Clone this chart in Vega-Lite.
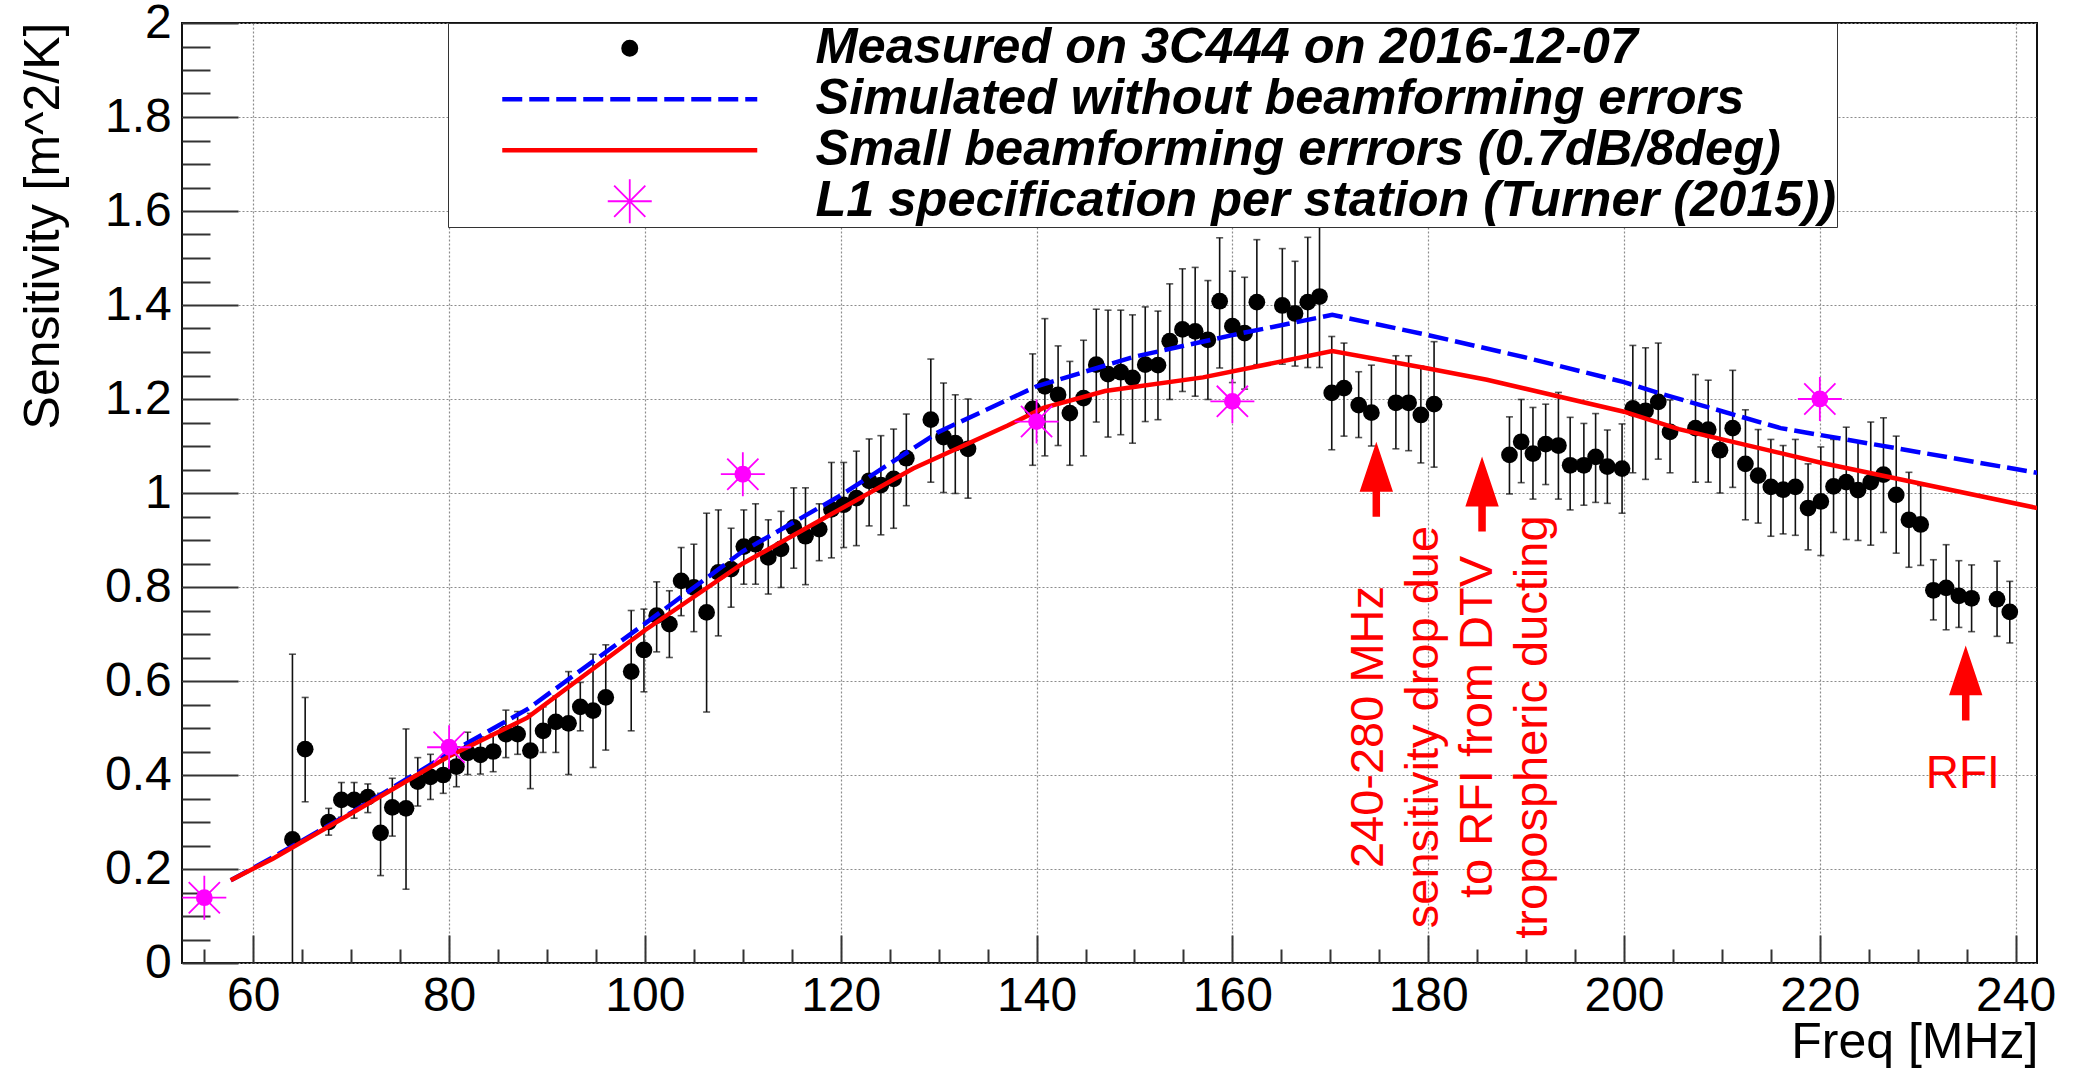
{
  "$schema": "https://vega.github.io/schema/vega-lite/v6.json",
  "width": 1855,
  "height": 940,
  "autosize": {"type": "none"},
  "padding": {"left": 182, "top": 23, "right": 37, "bottom": 107},
  "background": "#ffffff",
  "config": {
    "font": "Liberation Sans",
    "view": {"stroke": "#111111", "strokeWidth": 2},
    "axis": {
      "labelFont": "Liberation Sans",
      "titleFont": "Liberation Sans",
      "labelColor": "#000000",
      "titleColor": "#000000",
      "titleFontWeight": "normal",
      "domain": false,
      "labelFlush": false,
      "labelOverlap": false,
      "labelBound": false,
      "tickColor": "#333333",
      "tickWidth": 2
    }
  },
  "datasets": {
    "measured": [
      {"f": 64.0, "s": 0.263, "lo": -0.131, "hi": 0.657},
      {"f": 65.3, "s": 0.455, "lo": 0.343, "hi": 0.565},
      {"f": 67.7, "s": 0.300, "lo": 0.272, "hi": 0.329},
      {"f": 69.0, "s": 0.347, "lo": 0.310, "hi": 0.384},
      {"f": 70.3, "s": 0.347, "lo": 0.308, "hi": 0.384},
      {"f": 71.7, "s": 0.353, "lo": 0.320, "hi": 0.381},
      {"f": 73.0, "s": 0.277, "lo": 0.186, "hi": 0.361},
      {"f": 74.2, "s": 0.331, "lo": 0.270, "hi": 0.393},
      {"f": 75.6, "s": 0.329, "lo": 0.157, "hi": 0.498},
      {"f": 76.8, "s": 0.386, "lo": 0.334, "hi": 0.437},
      {"f": 78.1, "s": 0.396, "lo": 0.348, "hi": 0.444},
      {"f": 79.4, "s": 0.400, "lo": 0.361, "hi": 0.439},
      {"f": 80.75, "s": 0.418, "lo": 0.375, "hi": 0.460},
      {"f": 81.9, "s": 0.447, "lo": 0.401, "hi": 0.491},
      {"f": 83.2, "s": 0.443, "lo": 0.402, "hi": 0.481},
      {"f": 84.5, "s": 0.450, "lo": 0.407, "hi": 0.488},
      {"f": 85.8, "s": 0.487, "lo": 0.437, "hi": 0.538},
      {"f": 87.0, "s": 0.487, "lo": 0.444, "hi": 0.535},
      {"f": 88.3, "s": 0.452, "lo": 0.371, "hi": 0.531},
      {"f": 89.6, "s": 0.494, "lo": 0.448, "hi": 0.545},
      {"f": 90.9, "s": 0.513, "lo": 0.448, "hi": 0.568},
      {"f": 92.2, "s": 0.510, "lo": 0.401, "hi": 0.620},
      {"f": 93.4, "s": 0.545, "lo": 0.494, "hi": 0.597},
      {"f": 94.7, "s": 0.537, "lo": 0.416, "hi": 0.657},
      {"f": 96.0, "s": 0.565, "lo": 0.453, "hi": 0.677},
      {"f": 98.6, "s": 0.620, "lo": 0.494, "hi": 0.750},
      {"f": 99.9, "s": 0.666, "lo": 0.577, "hi": 0.753},
      {"f": 101.2, "s": 0.739, "lo": 0.662, "hi": 0.811},
      {"f": 102.5, "s": 0.721, "lo": 0.650, "hi": 0.792},
      {"f": 103.7, "s": 0.813, "lo": 0.739, "hi": 0.884},
      {"f": 105.0, "s": 0.799, "lo": 0.705, "hi": 0.891},
      {"f": 106.3, "s": 0.746, "lo": 0.534, "hi": 0.957},
      {"f": 107.5, "s": 0.831, "lo": 0.696, "hi": 0.964},
      {"f": 108.8, "s": 0.838, "lo": 0.757, "hi": 0.925},
      {"f": 110.1, "s": 0.886, "lo": 0.806, "hi": 0.964},
      {"f": 111.3, "s": 0.891, "lo": 0.806, "hi": 0.977},
      {"f": 112.6, "s": 0.863, "lo": 0.785, "hi": 0.943},
      {"f": 113.9, "s": 0.881, "lo": 0.799, "hi": 0.961},
      {"f": 115.2, "s": 0.927, "lo": 0.840, "hi": 1.011},
      {"f": 116.4, "s": 0.908, "lo": 0.805, "hi": 1.011},
      {"f": 117.8, "s": 0.923, "lo": 0.856, "hi": 0.977},
      {"f": 119.05, "s": 0.965, "lo": 0.862, "hi": 1.065},
      {"f": 120.3, "s": 0.975, "lo": 0.884, "hi": 1.065},
      {"f": 121.6, "s": 0.989, "lo": 0.888, "hi": 1.089},
      {"f": 122.9, "s": 1.026, "lo": 0.930, "hi": 1.115},
      {"f": 124.1, "s": 1.017, "lo": 0.911, "hi": 1.122},
      {"f": 125.4, "s": 1.030, "lo": 0.925, "hi": 1.136},
      {"f": 126.7, "s": 1.074, "lo": 0.973, "hi": 1.168},
      {"f": 129.2, "s": 1.156, "lo": 1.023, "hi": 1.285},
      {"f": 130.5, "s": 1.119, "lo": 1.001, "hi": 1.234},
      {"f": 131.7, "s": 1.106, "lo": 0.999, "hi": 1.209},
      {"f": 133.0, "s": 1.094, "lo": 0.989, "hi": 1.200},
      {"f": 139.6, "s": 1.179, "lo": 1.059, "hi": 1.296},
      {"f": 140.85, "s": 1.227, "lo": 1.079, "hi": 1.371},
      {"f": 142.2, "s": 1.209, "lo": 1.101, "hi": 1.313},
      {"f": 143.4, "s": 1.170, "lo": 1.059, "hi": 1.280},
      {"f": 144.8, "s": 1.202, "lo": 1.079, "hi": 1.325},
      {"f": 146.1, "s": 1.273, "lo": 1.151, "hi": 1.391},
      {"f": 147.3, "s": 1.253, "lo": 1.119, "hi": 1.389},
      {"f": 148.6, "s": 1.257, "lo": 1.124, "hi": 1.389},
      {"f": 149.8, "s": 1.245, "lo": 1.106, "hi": 1.379},
      {"f": 151.1, "s": 1.273, "lo": 1.152, "hi": 1.396},
      {"f": 152.4, "s": 1.272, "lo": 1.156, "hi": 1.387},
      {"f": 153.6, "s": 1.323, "lo": 1.199, "hi": 1.445},
      {"f": 154.9, "s": 1.348, "lo": 1.216, "hi": 1.477},
      {"f": 156.2, "s": 1.344, "lo": 1.206, "hi": 1.480},
      {"f": 157.5, "s": 1.326, "lo": 1.199, "hi": 1.452},
      {"f": 158.7, "s": 1.408, "lo": 1.266, "hi": 1.543},
      {"f": 160.0, "s": 1.355, "lo": 1.235, "hi": 1.472},
      {"f": 161.25, "s": 1.340, "lo": 1.221, "hi": 1.459},
      {"f": 162.5, "s": 1.406, "lo": 1.273, "hi": 1.539},
      {"f": 165.1, "s": 1.399, "lo": 1.274, "hi": 1.520},
      {"f": 166.4, "s": 1.382, "lo": 1.270, "hi": 1.493},
      {"f": 167.7, "s": 1.406, "lo": 1.267, "hi": 1.544},
      {"f": 168.9, "s": 1.418, "lo": 1.267, "hi": 1.567},
      {"f": 170.15, "s": 1.213, "lo": 1.092, "hi": 1.333},
      {"f": 171.4, "s": 1.223, "lo": 1.121, "hi": 1.319},
      {"f": 172.9, "s": 1.187, "lo": 1.118, "hi": 1.258},
      {"f": 174.2, "s": 1.171, "lo": 1.100, "hi": 1.272},
      {"f": 176.7, "s": 1.192, "lo": 1.094, "hi": 1.292},
      {"f": 178.0, "s": 1.192, "lo": 1.090, "hi": 1.292},
      {"f": 179.25, "s": 1.166, "lo": 1.064, "hi": 1.270},
      {"f": 180.6, "s": 1.189, "lo": 1.055, "hi": 1.322},
      {"f": 188.3, "s": 1.081, "lo": 0.998, "hi": 1.162},
      {"f": 189.5, "s": 1.109, "lo": 1.022, "hi": 1.199},
      {"f": 190.7, "s": 1.084, "lo": 0.987, "hi": 1.182},
      {"f": 192.0, "s": 1.104, "lo": 1.018, "hi": 1.189},
      {"f": 193.3, "s": 1.101, "lo": 0.987, "hi": 1.214},
      {"f": 194.5, "s": 1.059, "lo": 0.964, "hi": 1.161},
      {"f": 195.9, "s": 1.059, "lo": 0.974, "hi": 1.148},
      {"f": 197.1, "s": 1.077, "lo": 0.980, "hi": 1.169},
      {"f": 198.3, "s": 1.056, "lo": 0.978, "hi": 1.134},
      {"f": 199.8, "s": 1.052, "lo": 0.957, "hi": 1.147},
      {"f": 200.9, "s": 1.180, "lo": 1.043, "hi": 1.314},
      {"f": 202.2, "s": 1.175, "lo": 1.029, "hi": 1.309},
      {"f": 203.5, "s": 1.194, "lo": 1.072, "hi": 1.319},
      {"f": 204.7, "s": 1.130, "lo": 1.043, "hi": 1.198},
      {"f": 207.3, "s": 1.138, "lo": 1.023, "hi": 1.252},
      {"f": 208.6, "s": 1.135, "lo": 1.023, "hi": 1.240},
      {"f": 209.8, "s": 1.091, "lo": 1.000, "hi": 1.174},
      {"f": 211.1, "s": 1.138, "lo": 1.012, "hi": 1.261},
      {"f": 212.4, "s": 1.062, "lo": 0.943, "hi": 1.177},
      {"f": 213.7, "s": 1.037, "lo": 0.936, "hi": 1.135},
      {"f": 215.0, "s": 1.013, "lo": 0.908, "hi": 1.114},
      {"f": 216.25, "s": 1.007, "lo": 0.913, "hi": 1.101},
      {"f": 217.5, "s": 1.013, "lo": 0.910, "hi": 1.114},
      {"f": 218.8, "s": 0.968, "lo": 0.879, "hi": 1.062},
      {"f": 220.1, "s": 0.982, "lo": 0.867, "hi": 1.098},
      {"f": 221.4, "s": 1.014, "lo": 0.916, "hi": 1.114},
      {"f": 222.7, "s": 1.023, "lo": 0.901, "hi": 1.140},
      {"f": 223.9, "s": 1.006, "lo": 0.899, "hi": 1.109},
      {"f": 225.2, "s": 1.023, "lo": 0.889, "hi": 1.151},
      {"f": 226.5, "s": 1.039, "lo": 0.916, "hi": 1.160},
      {"f": 227.8, "s": 0.996, "lo": 0.872, "hi": 1.121},
      {"f": 229.1, "s": 0.943, "lo": 0.842, "hi": 1.044},
      {"f": 230.3, "s": 0.933, "lo": 0.846, "hi": 1.016},
      {"f": 231.6, "s": 0.793, "lo": 0.730, "hi": 0.858},
      {"f": 232.9, "s": 0.798, "lo": 0.709, "hi": 0.890},
      {"f": 234.2, "s": 0.781, "lo": 0.714, "hi": 0.856},
      {"f": 235.5, "s": 0.776, "lo": 0.705, "hi": 0.847},
      {"f": 238.1, "s": 0.774, "lo": 0.695, "hi": 0.855},
      {"f": 239.4, "s": 0.747, "lo": 0.681, "hi": 0.812}
    ],
    "curves": [
      {"f": 57.7, "s": 0.176, "curve": "Simulated without beamforming errors"},
      {"f": 62, "s": 0.225, "curve": "Simulated without beamforming errors"},
      {"f": 70, "s": 0.320, "curve": "Simulated without beamforming errors"},
      {"f": 80, "s": 0.446, "curve": "Simulated without beamforming errors"},
      {"f": 88, "s": 0.540, "curve": "Simulated without beamforming errors"},
      {"f": 100, "s": 0.722, "curve": "Simulated without beamforming errors"},
      {"f": 110, "s": 0.876, "curve": "Simulated without beamforming errors"},
      {"f": 120, "s": 0.995, "curve": "Simulated without beamforming errors"},
      {"f": 130, "s": 1.130, "curve": "Simulated without beamforming errors"},
      {"f": 140, "s": 1.227, "curve": "Simulated without beamforming errors"},
      {"f": 150, "s": 1.290, "curve": "Simulated without beamforming errors"},
      {"f": 160, "s": 1.336, "curve": "Simulated without beamforming errors"},
      {"f": 170.2, "s": 1.379, "curve": "Simulated without beamforming errors"},
      {"f": 180, "s": 1.336, "curve": "Simulated without beamforming errors"},
      {"f": 190, "s": 1.288, "curve": "Simulated without beamforming errors"},
      {"f": 200, "s": 1.236, "curve": "Simulated without beamforming errors"},
      {"f": 204, "s": 1.210, "curve": "Simulated without beamforming errors"},
      {"f": 216, "s": 1.138, "curve": "Simulated without beamforming errors"},
      {"f": 242.2, "s": 1.043, "curve": "Simulated without beamforming errors"},
      {"f": 57.7, "s": 0.176, "curve": "Small beamforming errrors (0.7dB/8deg)"},
      {"f": 62, "s": 0.222, "curve": "Small beamforming errrors (0.7dB/8deg)"},
      {"f": 70, "s": 0.318, "curve": "Small beamforming errrors (0.7dB/8deg)"},
      {"f": 80, "s": 0.440, "curve": "Small beamforming errrors (0.7dB/8deg)"},
      {"f": 88, "s": 0.522, "curve": "Small beamforming errrors (0.7dB/8deg)"},
      {"f": 100, "s": 0.708, "curve": "Small beamforming errrors (0.7dB/8deg)"},
      {"f": 110, "s": 0.850, "curve": "Small beamforming errrors (0.7dB/8deg)"},
      {"f": 118, "s": 0.943, "curve": "Small beamforming errrors (0.7dB/8deg)"},
      {"f": 127.4, "s": 1.052, "curve": "Small beamforming errrors (0.7dB/8deg)"},
      {"f": 137, "s": 1.143, "curve": "Small beamforming errrors (0.7dB/8deg)"},
      {"f": 140.7, "s": 1.181, "curve": "Small beamforming errrors (0.7dB/8deg)"},
      {"f": 147, "s": 1.217, "curve": "Small beamforming errrors (0.7dB/8deg)"},
      {"f": 157, "s": 1.246, "curve": "Small beamforming errrors (0.7dB/8deg)"},
      {"f": 170.2, "s": 1.302, "curve": "Small beamforming errrors (0.7dB/8deg)"},
      {"f": 180, "s": 1.265, "curve": "Small beamforming errrors (0.7dB/8deg)"},
      {"f": 186, "s": 1.241, "curve": "Small beamforming errrors (0.7dB/8deg)"},
      {"f": 200, "s": 1.173, "curve": "Small beamforming errrors (0.7dB/8deg)"},
      {"f": 205.6, "s": 1.136, "curve": "Small beamforming errrors (0.7dB/8deg)"},
      {"f": 220, "s": 1.065, "curve": "Small beamforming errrors (0.7dB/8deg)"},
      {"f": 242.2, "s": 0.968, "curve": "Small beamforming errrors (0.7dB/8deg)"}
    ],
    "spec": [
      {"f": 55, "s": 0.139, "curve": "L1 specification per station (Turner (2015))"},
      {"f": 80, "s": 0.459, "curve": "L1 specification per station (Turner (2015))"},
      {"f": 110, "s": 1.040, "curve": "L1 specification per station (Turner (2015))"},
      {"f": 140, "s": 1.152, "curve": "L1 specification per station (Turner (2015))"},
      {"f": 160, "s": 1.195, "curve": "L1 specification per station (Turner (2015))"},
      {"f": 220, "s": 1.200, "curve": "L1 specification per station (Turner (2015))"}
    ],
    "arrows": [
      {"f": 174.7, "s": 1.029},
      {"f": 185.5, "s": 0.998},
      {"f": 234.9, "s": 0.596}
    ],
    "dtvNote": [
      {"f": 174.0, "s": 0.502, "text": ["240-280 MHz", "sensitivity drop due", "to RFI from DTV", "tropospheric ducting"]}
    ],
    "rfiNote": [
      {"f": 234.6, "s": 0.372, "text": "RFI"}
    ]
  },
  "encoding": {
    "x": {"field": "f", "type": "quantitative", "scale": {"domain": [52.72, 242.18], "nice": false, "zero": false}, "axis": null},
    "y": {"field": "s", "type": "quantitative", "scale": {"domain": [0, 2], "nice": false, "zero": false}, "axis": null}
  },
  "resolve": {"axis": {"x": "independent", "y": "independent"}},
  "layer": [
    {
      "data": {"name": "measured"},
      "mark": {"type": "rule", "color": "#111111", "strokeWidth": 1.6, "clip": true},
      "encoding": {
        "x": {
          "field": "f", "type": "quantitative",
          "scale": {"domain": [52.72, 242.18], "nice": false, "zero": false},
          "axis": {
            "orient": "bottom",
            "values": [60, 80, 100, 120, 140, 160, 180, 200, 220, 240],
            "format": "d",
            "tickSize": -28,
            "labelPadding": 37.4,
            "labelFontSize": 48,
            "labelBaseline": "top",
            "labelAlign": "center",
            "grid": true,
            "gridColor": "#8c8c8c",
            "gridDash": [2, 2],
            "gridWidth": 1.2,
            "title": "Freq [MHz]",
            "titleFontSize": 50,
            "titleAlign": "right",
            "titleAnchor": "end",
            "titleBaseline": "alphabetic",
            "titleX": 1856,
            "titleY": 94.5
          }
        },
        "y": {
          "field": "lo", "type": "quantitative",
          "scale": {"domain": [0, 2], "nice": false, "zero": false},
          "axis": {
            "orient": "left",
            "values": [0, 0.2, 0.4, 0.6, 0.8, 1, 1.2, 1.4, 1.6, 1.8, 2],
            "format": "~g",
            "tickSize": -56,
            "labelPadding": 66.7,
            "labelFontSize": 48,
            "labelAlign": "right",
            "labelBaseline": "middle",
            "grid": true,
            "gridColor": "#8c8c8c",
            "gridDash": [2, 2],
            "gridWidth": 1.2,
            "title": "Sensitivity [m^2/K]",
            "titleFontSize": 50,
            "titleAngle": 270,
            "titleAlign": "right",
            "titleAnchor": "end",
            "titleBaseline": "alphabetic",
            "titleX": -124,
            "titleY": -1
          }
        },
        "y2": {"field": "hi"}
      }
    },
    {
      "data": {"name": "measured"},
      "mark": {"type": "tick", "orient": "horizontal", "size": 7, "thickness": 1.6, "color": "#111111", "clip": true},
      "encoding": {
        "y": {"field": "lo", "type": "quantitative", "scale": {"domain": [0, 2], "nice": false, "zero": false}, "axis": null}
      }
    },
    {
      "data": {"name": "measured"},
      "mark": {"type": "tick", "orient": "horizontal", "size": 7, "thickness": 1.6, "color": "#111111", "clip": true},
      "encoding": {
        "y": {"field": "hi", "type": "quantitative", "scale": {"domain": [0, 2], "nice": false, "zero": false}, "axis": null}
      }
    },
    {
      "data": {"name": "measured"},
      "mark": {"type": "point", "shape": "circle", "filled": true, "color": "#000000", "size": 280, "opacity": 1, "clip": true},
      "encoding": {
        "x": {
          "field": "f", "type": "quantitative",
          "scale": {"domain": [52.72, 242.18], "nice": false, "zero": false},
          "axis": {
            "orient": "bottom",
            "values": [55, 65, 70, 75, 85, 90, 95, 105, 110, 115, 125, 130, 135, 145, 150, 155, 165, 170, 175, 185, 190, 195, 205, 210, 215, 225, 230, 235],
            "tickSize": -14,
            "labels": false,
            "grid": false,
            "title": null
          }
        },
        "y": {
          "field": "s", "type": "quantitative",
          "scale": {"domain": [0, 2], "nice": false, "zero": false},
          "axis": {
            "orient": "left",
            "values": [0.05, 0.1, 0.15, 0.25, 0.3, 0.35, 0.45, 0.5, 0.55, 0.65, 0.7, 0.75, 0.85, 0.9, 0.95, 1.05, 1.1, 1.15, 1.25, 1.3, 1.35, 1.45, 1.5, 1.55, 1.65, 1.7, 1.75, 1.85, 1.9, 1.95],
            "tickSize": -28,
            "labels": false,
            "grid": false,
            "title": null
          }
        }
      }
    },
    {
      "data": {"name": "curves"},
      "transform": [{"filter": "datum.curve === 'Simulated without beamforming errors'"}],
      "mark": {"type": "line", "strokeWidth": 4.5, "strokeDash": [20, 7], "clip": true},
      "encoding": {
        "color": {
          "field": "curve", "type": "nominal",
          "scale": {
            "domain": ["Measured on 3C444 on 2016-12-07", "Simulated without beamforming errors", "Small beamforming errrors (0.7dB/8deg)", "L1 specification per station (Turner (2015))"],
            "range": ["#000000", "#0000ff", "#ff0000", "#ff00ff"]
          },
          "legend": {
            "orient": "none",
            "legendX": 266,
            "legendY": 0,
            "title": null,
            "direction": "vertical",
            "columns": 1,
            "padding": 0,
            "rowPadding": -2.4,
            "symbolSize": 1600,
            "symbolStrokeWidth": 1.8,
            "symbolOffset": 156.5,
            "labelOffset": 160.5,
            "labelFont": "Liberation Sans",
            "labelFontSize": 50.5,
            "labelFontStyle": "italic",
            "labelFontWeight": "bold",
            "labelColor": "#000000",
            "labelLimit": 3000,
            "labelBaseline": "middle",
            "fillColor": "#ffffff",
            "strokeColor": "#333333"
          }
        }
      }
    },
    {
      "data": {"name": "curves"},
      "transform": [{"filter": "datum.curve === 'Small beamforming errrors (0.7dB/8deg)'"}],
      "mark": {"type": "line", "strokeWidth": 4.5, "clip": true},
      "encoding": {
        "color": {
          "field": "curve", "type": "nominal",
          "scale": {
            "domain": ["Measured on 3C444 on 2016-12-07", "Simulated without beamforming errors", "Small beamforming errrors (0.7dB/8deg)", "L1 specification per station (Turner (2015))"],
            "range": ["#000000", "#0000ff", "#ff0000", "#ff00ff"]
          }
        }
      }
    },
    {
      "data": {"name": "spec"},
      "mark": {"type": "point", "shape": "circle", "filled": true, "color": "#ff00ff", "size": 284, "opacity": 1, "clip": true},
      "encoding": {}
    },
    {
      "data": {"name": "spec"},
      "mark": {"type": "point", "filled": false, "size": 1600, "strokeWidth": 1.8, "opacity": 1, "clip": true},
      "encoding": {
        "color": {
          "field": "curve", "type": "nominal",
          "scale": {
            "domain": ["Measured on 3C444 on 2016-12-07", "Simulated without beamforming errors", "Small beamforming errrors (0.7dB/8deg)", "L1 specification per station (Turner (2015))"],
            "range": ["#000000", "#0000ff", "#ff0000", "#ff00ff"]
          }
        },
        "fill": {
          "field": "curve", "type": "nominal",
          "scale": {
            "domain": ["Measured on 3C444 on 2016-12-07", "Simulated without beamforming errors", "Small beamforming errrors (0.7dB/8deg)", "L1 specification per station (Turner (2015))"],
            "range": ["#000000", "#0000ff", "#ff0000", "#ff00ff"]
          }
        },
        "shape": {
          "field": "curve", "type": "nominal",
          "scale": {
            "domain": ["Measured on 3C444 on 2016-12-07", "Simulated without beamforming errors", "Small beamforming errrors (0.7dB/8deg)", "L1 specification per station (Turner (2015))"],
            "range": [
              "M-0.38,0A0.38,0.38 0 1,0 0.38,0A0.38,0.38 0 1,0 -0.38,0Z",
              "M-6.33,-0.0675H-5.42V0.0675H-6.33ZM-4.98,-0.0675H-4.07V0.0675H-4.98ZM-3.63,-0.0675H-2.72V0.0675H-3.63ZM-2.28,-0.0675H-1.37V0.0675H-2.28ZM-0.93,-0.0675H-0.02V0.0675H-0.93ZM0.42,-0.0675H1.33V0.0675H0.42ZM1.77,-0.0675H2.68V0.0675H1.77ZM3.12,-0.0675H4.03V0.0675H3.12ZM4.47,-0.0675H5.38V0.0675H4.47ZM5.82,-0.0675H6.33V0.0675H5.82Z",
              "M-6.33,-0.0675H6.33V0.0675H-6.33Z",
              "M-1.1,0H1.1M0,-1.1V1.1M-0.78,-0.78L0.78,0.78M-0.78,0.78L0.78,-0.78"
            ]
          }
        }
      }
    },
    {
      "data": {"name": "arrows"},
      "mark": {"type": "point", "shape": "M0,-1L0.445,0.333L0.1,0.333L0.1,1L-0.1,1L-0.1,0.333L-0.445,0.333Z", "filled": true, "color": "#ff0000", "strokeWidth": 0, "size": 5625, "opacity": 1},
      "encoding": {}
    },
    {
      "data": {"name": "dtvNote"},
      "mark": {"type": "text", "angle": 270, "align": "center", "baseline": "middle", "fontSize": 47, "lineHeight": 54.5, "color": "#ff0000", "font": "Liberation Sans"},
      "encoding": {"text": {"field": "text", "type": "nominal"}}
    },
    {
      "data": {"name": "rfiNote"},
      "mark": {"type": "text", "align": "center", "baseline": "alphabetic", "fontSize": 46, "color": "#ff0000", "font": "Liberation Sans"},
      "encoding": {"text": {"field": "text", "type": "nominal"}}
    }
  ]
}
